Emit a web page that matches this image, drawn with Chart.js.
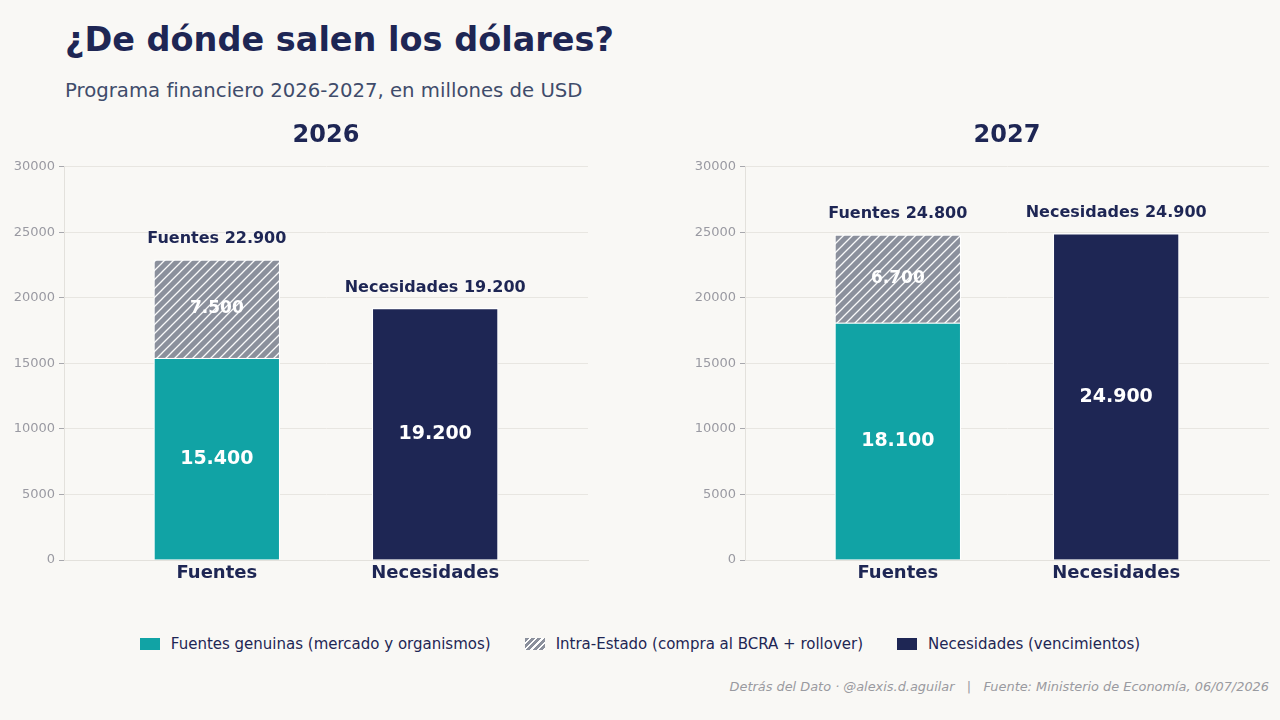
<!DOCTYPE html>
<html lang="es">
<head>
<meta charset="utf-8">
<script src="https://cdn.jsdelivr.net/npm/chart.js@4.4.1/dist/chart.umd.min.js"></script>
<style>
  html, body { margin: 0; padding: 0; }
  body {
    width: 1280px; height: 720px; overflow: hidden; position: relative;
    background: #f9f8f5; font-family: "DejaVu Sans", sans-serif;
  }
  #title { position: absolute; left: 65px; top: 20px; font-size: 33.5px; font-weight: bold; color: #1e2654; white-space: nowrap; }
  #subtitle { position: absolute; left: 65px; top: 79px; font-size: 19.7px; color: #3f4c6b; white-space: nowrap; }
  canvas { position: absolute; }
  #c2026 { left: 0; top: 110px; }
  #c2027 { left: 681px; top: 110px; }
  #legend {
    position: absolute; left: 0; width: 1280px; top: 635px;
    display: flex; justify-content: center; gap: 34px;
    font-size: 15px; color: #1e2654;
  }
  .item { display: flex; align-items: center; white-space: nowrap; }
  .sw { width: 20px; height: 12px; margin-right: 11px; }
  #footer {
    position: absolute; right: 11px; top: 679px; font-size: 12.9px; font-style: italic;
    color: #999aa0; white-space: nowrap;
  }
</style>
</head>
<body>
<div id="title">¿De dónde salen los dólares?</div>
<div id="subtitle">Programa financiero 2026-2027, en millones de USD</div>
<canvas id="c2026" width="599" height="490"></canvas>
<canvas id="c2027" width="599" height="490"></canvas>
<div id="legend"></div>
<div id="footer">Detrás del Dato · @alexis.d.aguilar &nbsp; | &nbsp; Fuente: Ministerio de Economía, 06/07/2026</div>

<script>
// datos (millones de USD)
const years = ["2026", "2027"];
const categories = ["Fuentes", "Necesidades"];
const genuinas = [15400, 18100];
const intraEstado = [7500, 6700];
const necesidades = [19200, 24900];
const yTicks = [0, 5000, 10000, 15000, 20000, 25000, 30000];
const legendLabels = [
  "Fuentes genuinas (mercado y organismos)",
  "Intra-Estado (compra al BCRA + rollover)",
  "Necesidades (vencimientos)"
];

const TEAL = "#11a3a5";
const NAVY = "#1e2654";
const GRAY = "#8b909c";
const FONT = "'DejaVu Sans', sans-serif";

const fmt = v => String(v).replace(/\B(?=(\d{3})+(?!\d))/g, ".");

function hatchPattern() {
  const s = 9;
  const c = document.createElement("canvas");
  c.width = s; c.height = s;
  const g = c.getContext("2d");
  g.fillStyle = GRAY;
  g.fillRect(0, 0, s, s);
  g.strokeStyle = "rgba(255,255,255,0.95)";
  g.lineWidth = 1.3;
  g.beginPath();
  g.moveTo(0, s); g.lineTo(s, 0);
  g.moveTo(-s / 2, s / 2); g.lineTo(s / 2, -s / 2);
  g.moveTo(s / 2, s * 1.5); g.lineTo(s * 1.5, s / 2);
  g.stroke();
  return g.createPattern(c, "repeat");
}

// etiquetas dentro y encima de las barras
const barLabels = {
  id: "barLabels",
  afterDatasetsDraw(chart, args, opts) {
    const ctx = chart.ctx;
    const i = opts.yearIndex;
    ctx.save();
    ctx.textAlign = "center";
    ctx.textBaseline = "middle";
    chart.data.datasets.forEach((ds, d) => {
      const meta = chart.getDatasetMeta(d);
      meta.data.forEach((el, k) => {
        const v = ds.data[k].y;
        ctx.fillStyle = "#ffffff";
        ctx.font = "bold " + (d === 1 ? 17 : 19) + "px " + FONT;
        ctx.fillText(fmt(v), el.x, (el.y + el.base) / 2);
      });
    });
    const tops = [
      { el: chart.getDatasetMeta(1).data[0], text: categories[0] + " " + fmt(genuinas[i] + intraEstado[i]) },
      { el: chart.getDatasetMeta(2).data[0], text: categories[1] + " " + fmt(necesidades[i]) }
    ];
    ctx.fillStyle = NAVY;
    ctx.font = "bold 16px " + FONT;
    tops.forEach(t => ctx.fillText(t.text, t.el.x, t.el.y - 21));
    ctx.restore();
  }
};

function makeChart(id, i) {
  const hatch = hatchPattern();
  return new Chart(document.getElementById(id), {
    type: "bar",
    data: {
      datasets: [
        { label: legendLabels[0], data: [{ x: 0, y: genuinas[i] }], backgroundColor: TEAL },
        { label: legendLabels[1], data: [{ x: 0, y: intraEstado[i] }], backgroundColor: hatch },
        { label: legendLabels[2], data: [{ x: 1, y: necesidades[i] }], backgroundColor: NAVY }
      ]
    },
    options: {
      responsive: false,
      animation: false,
      devicePixelRatio: 1,
      layout: { padding: { left: 0, right: 11, top: 0, bottom: 0 } },
      datasets: { bar: { barThickness: 126, borderColor: "#ffffff", borderWidth: 1.2, borderSkipped: "bottom" } },
      scales: {
        x: {
          type: "linear", stacked: true, min: -0.7, max: 1.7, offset: false, bounds: "data",
          grid: { display: false, offset: false, drawTicks: false },
          border: { display: true, color: "#e3e1dc" },
          afterBuildTicks: s => { s.ticks = categories.map((c, k) => ({ value: k })); },
          afterFit: s => { s.height = 40; },
          ticks: {
            autoSkip: false, maxRotation: 0, padding: 3,
            color: NAVY, font: { family: FONT, size: 18, weight: "bold" },
            callback: v => categories[v]
          }
        },
        y: {
          stacked: true, min: 0, max: 30000,
          afterBuildTicks: s => { s.ticks = yTicks.map(v => ({ value: v })); },
          afterFit: s => { s.width = 64; },
          grid: { color: "#e8e6e1", lineWidth: 1, tickColor: "#a8a8ad", tickLength: 5 },
          border: { display: true, color: "#e3e1dc" },
          ticks: { color: "#9a9aa2", padding: 4, font: { family: FONT, size: 13 }, callback: v => String(v) }
        }
      },
      plugins: {
        legend: { display: false },
        tooltip: { enabled: false },
        title: {
          display: true, text: years[i], fullSize: false, color: NAVY,
          font: { family: FONT, size: 24, weight: "bold" },
          padding: { top: 11, bottom: 17 }
        },
        barLabels: { yearIndex: i }
      }
    },
    plugins: [barLabels]
  });
}

makeChart("c2026", 0);
makeChart("c2027", 1);

// leyenda
const swatches = [
  TEAL,
  "repeating-linear-gradient(135deg, " + GRAY + " 0 3px, #ffffff 3px 4.5px)",
  NAVY
];
const legendEl = document.getElementById("legend");
legendLabels.forEach((t, k) => {
  const it = document.createElement("div");
  it.className = "item";
  const sw = document.createElement("span");
  sw.className = "sw";
  sw.style.background = swatches[k];
  const tx = document.createElement("span");
  tx.textContent = t;
  it.appendChild(sw);
  it.appendChild(tx);
  legendEl.appendChild(it);
});
</script>
</body>
</html>
